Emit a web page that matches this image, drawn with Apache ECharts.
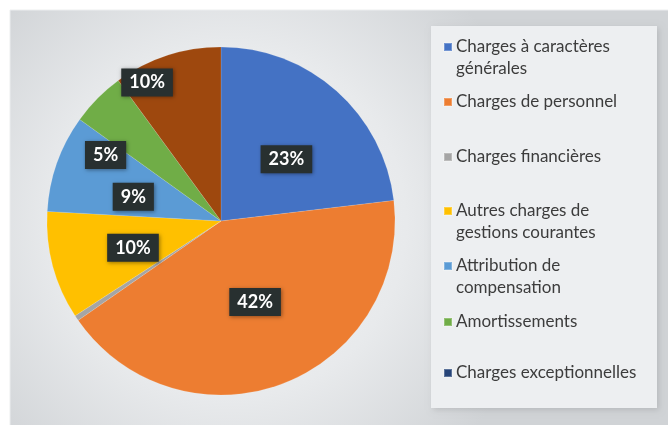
<!DOCTYPE html>
<html>
<head>
<meta charset="utf-8">
<script src="https://cdn.jsdelivr.net/npm/echarts@6/dist/echarts.min.js"></script>
<style>
  html, body { margin: 0; padding: 0; background: #fff; }
  #chart { width: 668px; height: 425px; }
</style>
</head>
<body>
<div id="chart"></div>
<script>
// data (percent of total)
var categories = [
    'Charges à caractères générales',
    'Charges de personnel',
    'Charges financières',
    'Autres charges de gestions courantes',
    'Attribution de compensation',
    'Amortissements',
    'Charges exceptionnelles'
];
var values = [23, 42, 0.5, 10, 9, 5, 10];
// legend text as wrapped in the picture
var legendLabels = [
    'Charges à caractères\ngénérales',
    'Charges de personnel',
    'Charges financières',
    'Autres charges de\ngestions courantes',
    'Attribution de\ncompensation',
    'Amortissements',
    'Charges exceptionnelles'
];

// styles
var sliceColors = ['#4472c4', '#ed7d31', '#a5a5a5', '#ffc000', '#5b9bd5', '#70ad47', '#9e480e'];
var legendColors = ['#4472c4', '#ed7d31', '#a5a5a5', '#ffc000', '#5b9bd5', '#70ad47', '#264478'];
var legendMarkerY = [47, 102, 157, 211, 266, 322, 373];
// label placement like Excel's "best fit": distance from centre and angle shift (deg)
var labelRadius = [90, 88, 0, 92, 91, 133, 157];
var labelTurn = [5, -2, 0, -2, -4, -15, -10];
var pieCenter = [221, 221];
var lineH = 22;

var dom = document.getElementById('chart');
var myChart = echarts.init(dom, null, { renderer: 'canvas' });

var legends = categories.map(function (name, i) {
    var twoLines = legendLabels[i].indexOf('\n') >= 0;
    var lines = twoLines ? 3 : 1;
    return {
        orient: 'vertical',
        left: 443,
        top: legendMarkerY[i] - lines * lineH / 2,
        padding: 0,
        itemWidth: 8,
        itemHeight: 8,
        itemGap: 0,
        selectedMode: false,
        icon: 'rect',
        data: [{ name: name, itemStyle: { color: legendColors[i] } }],
        formatter: function () {
            // blank first line keeps the marker on the first text line
            return (twoLines ? '\n' : '') + legendLabels[i];
        },
        textStyle: {
            fontFamily: 'Lato',
            fontSize: 17,
            color: '#3c3c3c',
            lineHeight: lineH,
            padding: [0, 0, 0, -1]
        }
    };
});

var total = values.reduce(function (a, b) { return a + b; }, 0);

var option = {
    backgroundColor: '#ffffff',
    animation: false,
    graphic: [
        {
            type: 'rect',
            z: -10,
            shape: { x: 10, y: 10, width: 668, height: 425 },
            style: {
                fill: new echarts.graphic.RadialGradient(0.33, 0.5, 0.75, [
                    { offset: 0, color: '#f4f5f6' },
                    { offset: 0.55, color: '#e8eaec' },
                    { offset: 1, color: '#d0d3d6' }
                ]),
                stroke: '#eceeef',
                lineWidth: 1
            }
        },
        {
            type: 'rect',
            z: -9,
            shape: { x: 431, y: 26, width: 226, height: 382 },
            style: {
                fill: '#edeff1',
                shadowBlur: 6,
                shadowColor: 'rgba(0,0,0,0.12)',
                shadowOffsetX: 2,
                shadowOffsetY: 2
            }
        }
    ],
    legend: legends,
    series: [
        {
            type: 'pie',
            center: pieCenter,
            radius: 174,
            startAngle: 90,
            clockwise: true,
            avoidLabelOverlap: false,
            data: categories.map(function (name, i) {
                return {
                    name: name,
                    value: values[i],
                    itemStyle: { color: sliceColors[i] },
                    label: { show: values[i] >= 1 }
                };
            }),
            itemStyle: { borderColor: 'rgba(255,255,255,0.25)', borderWidth: 0.5 },
            label: {
                position: 'inside',
                formatter: '{c}%',
                color: '#ffffff',
                fontFamily: 'Lato',
                fontWeight: 'bold',
                fontSize: 18,
                backgroundColor: '#283030',
                padding: [5, 8, 5, 8],
                shadowBlur: 4,
                shadowColor: 'rgba(0,0,0,0.4)',
                shadowOffsetX: 1,
                shadowOffsetY: 1
            },
            labelLine: { show: false },
            labelLayout: function (params) {
                var i = params.dataIndex;
                var r = params.labelRect;
                var cx = r.x + r.width / 2;
                var cy = r.y + r.height / 2;
                // mid angle of the slice, clockwise from 12 o'clock
                var before = 0;
                for (var j = 0; j < i; j++) before += values[j];
                var mid = (before + values[i] / 2) / total * 360 + labelTurn[i];
                var a = mid * Math.PI / 180;
                var tx = pieCenter[0] + labelRadius[i] * Math.sin(a);
                var ty = pieCenter[1] - labelRadius[i] * Math.cos(a);
                return { dx: tx - cx, dy: ty - cy };
            },
            emphasis: { disabled: true }
        }
    ]
};

option && myChart.setOption(option);
</script>
</body>
</html>
